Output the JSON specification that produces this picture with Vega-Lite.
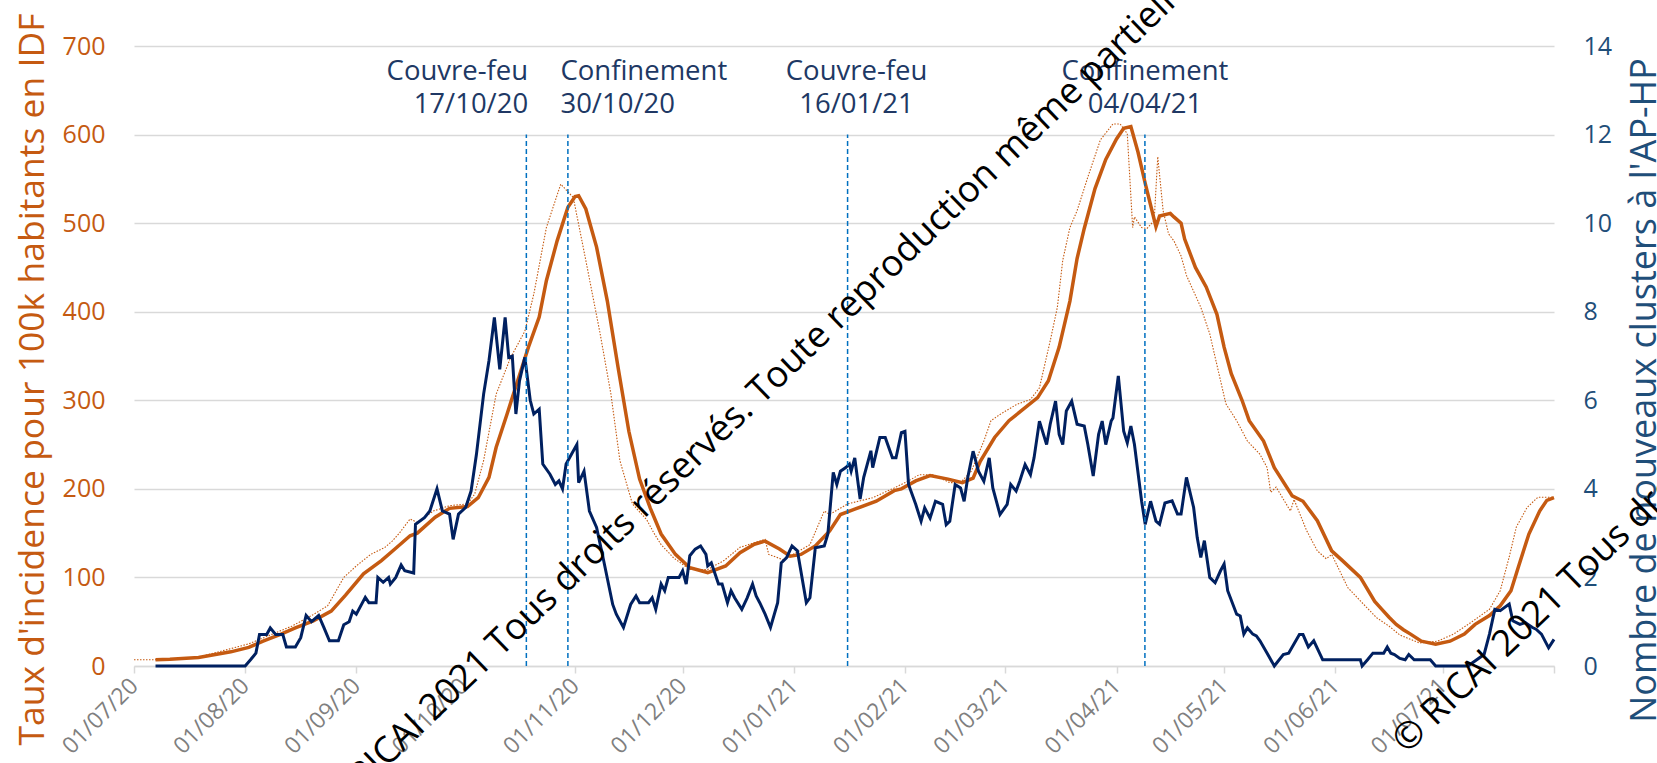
{
  "$schema": "https://vega.github.io/schema/vega-lite/v6.json",
  "width": 1420,
  "height": 620,
  "autosize": {"type": "none"},
  "padding": {"left": 134, "top": 46, "right": 103, "bottom": 97},
  "background": "white",
  "config": {"font": "Open Sans", "view": {"stroke": null}},
  "datasets": {
    "lisse": [
      {"d":"2020-07-07T00:00","v":7},{"d":"2020-07-11T00:00","v":7.5},{"d":"2020-07-19T00:00","v":9.5},{"d":"2020-07-28T00:00","v":16},
      {"d":"2020-08-02T00:00","v":21},{"d":"2020-08-06T00:00","v":28},{"d":"2020-08-11T00:00","v":36},{"d":"2020-08-15T00:00","v":43},
      {"d":"2020-08-20T00:00","v":51},{"d":"2020-08-25T00:00","v":62},{"d":"2020-08-29T00:00","v":80},{"d":"2020-09-03T00:00","v":104},
      {"d":"2020-09-08T00:00","v":119},{"d":"2020-09-12T00:00","v":133},{"d":"2020-09-16T00:00","v":147},{"d":"2020-09-18T00:00","v":150},
      {"d":"2020-09-23T00:00","v":168},{"d":"2020-09-27T00:00","v":178},{"d":"2020-10-02T00:00","v":180},{"d":"2020-10-05T00:00","v":190},
      {"d":"2020-10-08T00:00","v":213},{"d":"2020-10-10T00:00","v":247},{"d":"2020-10-13T00:00","v":284},{"d":"2020-10-16T00:00","v":322},
      {"d":"2020-10-19T00:00","v":360},{"d":"2020-10-22T00:00","v":394},{"d":"2020-10-24T00:00","v":435},{"d":"2020-10-27T00:00","v":480},
      {"d":"2020-10-30T00:00","v":518},{"d":"2020-11-01T00:00","v":530},{"d":"2020-11-02T00:00","v":531},{"d":"2020-11-04T00:00","v":516},
      {"d":"2020-11-07T00:00","v":473},{"d":"2020-11-10T00:00","v":412},{"d":"2020-11-13T00:00","v":337},{"d":"2020-11-16T00:00","v":265},
      {"d":"2020-11-19T00:00","v":211},{"d":"2020-11-22T00:00","v":178},{"d":"2020-11-25T00:00","v":149},{"d":"2020-11-29T00:00","v":126},
      {"d":"2020-12-03T00:00","v":111},{"d":"2020-12-08T00:00","v":105.5},{"d":"2020-12-13T00:00","v":113},{"d":"2020-12-17T00:00","v":128},
      {"d":"2020-12-21T00:00","v":137.5},{"d":"2020-12-24T00:00","v":141},{"d":"2020-12-28T00:00","v":132},{"d":"2020-12-31T00:00","v":124},
      {"d":"2021-01-03T00:00","v":126},{"d":"2021-01-07T00:00","v":135.6},{"d":"2021-01-11T00:00","v":152.5},{"d":"2021-01-14T00:00","v":171},
      {"d":"2021-01-18T00:00","v":177},{"d":"2021-01-24T00:00","v":186},{"d":"2021-01-29T00:00","v":198},{"d":"2021-01-31T00:00","v":200},
      {"d":"2021-02-04T00:00","v":209},{"d":"2021-02-08T00:00","v":215},{"d":"2021-02-13T00:00","v":211},{"d":"2021-02-17T00:00","v":207},
      {"d":"2021-02-20T00:00","v":212},{"d":"2021-02-22T00:00","v":231},{"d":"2021-02-26T00:00","v":258},{"d":"2021-03-02T00:00","v":277},
      {"d":"2021-03-06T00:00","v":290},{"d":"2021-03-10T00:00","v":303},{"d":"2021-03-13T00:00","v":322},{"d":"2021-03-16T00:00","v":360},
      {"d":"2021-03-19T00:00","v":412},{"d":"2021-03-21T00:00","v":460},{"d":"2021-03-23T00:00","v":494},{"d":"2021-03-26T00:00","v":539},
      {"d":"2021-03-29T00:00","v":572},{"d":"2021-04-01T00:00","v":595},{"d":"2021-04-03T00:00","v":607},{"d":"2021-04-05T00:00","v":609},
      {"d":"2021-04-07T00:00","v":580},{"d":"2021-04-09T00:00","v":545},{"d":"2021-04-12T00:00","v":496},{"d":"2021-04-13T00:00","v":508},
      {"d":"2021-04-16T00:00","v":511},{"d":"2021-04-17T00:00","v":507},{"d":"2021-04-19T00:00","v":500},{"d":"2021-04-20T00:00","v":482},
      {"d":"2021-04-23T00:00","v":450},{"d":"2021-04-26T00:00","v":428},{"d":"2021-04-29T00:00","v":397},{"d":"2021-05-01T00:00","v":360},
      {"d":"2021-05-03T00:00","v":330},{"d":"2021-05-06T00:00","v":300},{"d":"2021-05-08T00:00","v":277},{"d":"2021-05-12T00:00","v":254},
      {"d":"2021-05-15T00:00","v":224},{"d":"2021-05-20T00:00","v":192},{"d":"2021-05-23T00:00","v":186},{"d":"2021-05-27T00:00","v":164},
      {"d":"2021-05-31T00:00","v":130},{"d":"2021-06-03T00:00","v":119},{"d":"2021-06-08T00:00","v":100},{"d":"2021-06-12T00:00","v":73},
      {"d":"2021-06-14T00:00","v":64},{"d":"2021-06-16T00:00","v":55},{"d":"2021-06-18T00:00","v":47},{"d":"2021-06-20T00:00","v":41},
      {"d":"2021-06-22T00:00","v":36},{"d":"2021-06-25T00:00","v":28},{"d":"2021-06-29T00:00","v":24.5},{"d":"2021-07-03T00:00","v":28},
      {"d":"2021-07-07T00:00","v":36},{"d":"2021-07-10T00:00","v":47},{"d":"2021-07-14T00:00","v":57},{"d":"2021-07-17T00:00","v":68},
      {"d":"2021-07-20T00:00","v":85},{"d":"2021-07-22T00:00","v":111},{"d":"2021-07-25T00:00","v":149},{"d":"2021-07-28T00:00","v":175},
      {"d":"2021-07-30T00:00","v":187},{"d":"2021-08-01T00:00","v":190}
    ],
    "brut": [
      {"d":"2020-07-01T00:00","v":7},{"d":"2020-07-07T00:00","v":7},{"d":"2020-07-19T00:00","v":10},{"d":"2020-08-02T00:00","v":25},
      {"d":"2020-08-14T00:00","v":45},{"d":"2020-08-20T00:00","v":58},{"d":"2020-08-24T00:00","v":68},{"d":"2020-08-28T12:00","v":100},
      {"d":"2020-09-01T00:00","v":113},{"d":"2020-09-05T00:00","v":126},{"d":"2020-09-09T00:00","v":134},{"d":"2020-09-11T00:00","v":141},
      {"d":"2020-09-13T00:00","v":150},{"d":"2020-09-16T00:00","v":166},{"d":"2020-09-18T00:00","v":162},{"d":"2020-09-22T12:00","v":175},
      {"d":"2020-09-27T00:00","v":181},{"d":"2020-10-02T00:00","v":183},{"d":"2020-10-04T00:00","v":194},{"d":"2020-10-06T12:00","v":232},
      {"d":"2020-10-10T00:00","v":307},{"d":"2020-10-14T00:00","v":348},{"d":"2020-10-18T00:00","v":378},{"d":"2020-10-20T12:00","v":420},
      {"d":"2020-10-24T00:00","v":495},{"d":"2020-10-28T00:00","v":544},{"d":"2020-10-31T12:00","v":529},{"d":"2020-11-04T00:00","v":458},
      {"d":"2020-11-08T00:00","v":375},{"d":"2020-11-11T00:00","v":307},{"d":"2020-11-13T12:00","v":232},{"d":"2020-11-17T00:00","v":183},
      {"d":"2020-11-21T00:00","v":165},{"d":"2020-11-23T00:00","v":150},{"d":"2020-11-25T00:00","v":137},{"d":"2020-11-28T12:00","v":122},
      {"d":"2020-12-03T00:00","v":109},{"d":"2020-12-08T00:00","v":109},{"d":"2020-12-12T12:00","v":119},{"d":"2020-12-17T00:00","v":134},
      {"d":"2020-12-24T00:00","v":143},{"d":"2020-12-25T00:00","v":126},{"d":"2020-12-29T00:00","v":120},{"d":"2020-12-31T00:00","v":124},
      {"d":"2021-01-05T12:00","v":137},{"d":"2021-01-09T12:00","v":175},{"d":"2021-01-11T00:00","v":171},{"d":"2021-01-16T00:00","v":183},
      {"d":"2021-01-23T00:00","v":190},{"d":"2021-01-29T00:00","v":201},{"d":"2021-02-02T00:00","v":209},{"d":"2021-02-05T00:00","v":216},
      {"d":"2021-02-09T00:00","v":216},{"d":"2021-02-13T12:00","v":207},{"d":"2021-02-16T12:00","v":207},{"d":"2021-02-19T12:00","v":220},
      {"d":"2021-02-23T00:00","v":254},{"d":"2021-02-25T00:00","v":277},{"d":"2021-02-27T12:00","v":284},{"d":"2021-03-04T00:00","v":295},
      {"d":"2021-03-08T00:00","v":301},{"d":"2021-03-10T12:00","v":314},{"d":"2021-03-13T12:00","v":367},{"d":"2021-03-15T12:00","v":405},
      {"d":"2021-03-17T00:00","v":458},{"d":"2021-03-19T00:00","v":495},{"d":"2021-03-21T00:00","v":514},{"d":"2021-03-24T00:00","v":552},
      {"d":"2021-03-27T12:00","v":594},{"d":"2021-03-31T00:00","v":612},{"d":"2021-04-02T00:00","v":612},{"d":"2021-04-04T00:00","v":601},
      {"d":"2021-04-05T12:00","v":495},{"d":"2021-04-06T00:00","v":507},{"d":"2021-04-08T00:00","v":495},{"d":"2021-04-09T12:00","v":494},
      {"d":"2021-04-11T12:00","v":503},{"d":"2021-04-12T12:00","v":575},{"d":"2021-04-14T00:00","v":514},{"d":"2021-04-15T12:00","v":488},
      {"d":"2021-04-17T00:00","v":480},{"d":"2021-04-19T00:00","v":463},{"d":"2021-04-20T12:00","v":441},{"d":"2021-04-24T12:00","v":405},
      {"d":"2021-04-27T00:00","v":375},{"d":"2021-05-01T12:00","v":296},{"d":"2021-05-04T12:00","v":277},{"d":"2021-05-07T12:00","v":254},
      {"d":"2021-05-11T00:00","v":239},{"d":"2021-05-13T00:00","v":224},{"d":"2021-05-14T00:00","v":196},{"d":"2021-05-15T12:00","v":202},
      {"d":"2021-05-19T12:00","v":175},{"d":"2021-05-20T12:00","v":188},{"d":"2021-05-24T00:00","v":153},{"d":"2021-05-27T00:00","v":130},
      {"d":"2021-05-29T12:00","v":121},{"d":"2021-05-31T00:00","v":126},{"d":"2021-06-04T12:00","v":88.5},{"d":"2021-06-08T00:00","v":73.5},
      {"d":"2021-06-12T12:00","v":54.6},{"d":"2021-06-16T00:00","v":45},{"d":"2021-06-19T00:00","v":35},{"d":"2021-06-24T12:00","v":26},
      {"d":"2021-06-29T12:00","v":28},{"d":"2021-07-04T00:00","v":36},{"d":"2021-07-09T12:00","v":51},{"d":"2021-07-14T00:00","v":64},
      {"d":"2021-07-17T00:00","v":85},{"d":"2021-07-19T12:00","v":123},{"d":"2021-07-21T12:00","v":157},{"d":"2021-07-24T12:00","v":179},
      {"d":"2021-07-27T12:00","v":190.5},{"d":"2021-08-01T00:00","v":190.5}
    ],
    "clusters": [
      {"d":"2020-07-07T00:00","c":0},{"d":"2020-08-01T00:00","c":0},{"d":"2020-08-02T12:00","c":0.14},{"d":"2020-08-04T00:00","c":0.29},
      {"d":"2020-08-05T00:00","c":0.71},{"d":"2020-08-07T00:00","c":0.71},{"d":"2020-08-08T00:00","c":0.86},{"d":"2020-08-09T12:00","c":0.71},
      {"d":"2020-08-11T12:00","c":0.71},{"d":"2020-08-12T12:00","c":0.43},{"d":"2020-08-15T00:00","c":0.43},{"d":"2020-08-16T12:00","c":0.64},
      {"d":"2020-08-18T00:00","c":1.14},{"d":"2020-08-19T12:00","c":1.0},{"d":"2020-08-21T12:00","c":1.14},{"d":"2020-08-23T00:00","c":0.86},
      {"d":"2020-08-24T12:00","c":0.57},{"d":"2020-08-27T00:00","c":0.57},{"d":"2020-08-28T12:00","c":0.93},{"d":"2020-08-30T00:00","c":1.0},
      {"d":"2020-08-31T00:00","c":1.24},{"d":"2020-09-01T00:00","c":1.17},{"d":"2020-09-03T12:00","c":1.55},{"d":"2020-09-04T12:00","c":1.43},
      {"d":"2020-09-06T12:00","c":1.43},{"d":"2020-09-07T00:00","c":2.0},{"d":"2020-09-08T12:00","c":1.89},{"d":"2020-09-10T00:00","c":2.0},
      {"d":"2020-09-10T12:00","c":1.85},{"d":"2020-09-12T00:00","c":2.0},{"d":"2020-09-13T12:00","c":2.28},{"d":"2020-09-14T12:00","c":2.15},
      {"d":"2020-09-17T00:00","c":2.1},{"d":"2020-09-17T12:00","c":3.2},{"d":"2020-09-20T00:00","c":3.35},{"d":"2020-09-21T12:00","c":3.5},
      {"d":"2020-09-23T12:00","c":4.0},{"d":"2020-09-25T00:00","c":3.5},{"d":"2020-09-27T00:00","c":3.43},{"d":"2020-09-28T00:00","c":2.86},
      {"d":"2020-09-29T12:00","c":3.43},{"d":"2020-10-01T12:00","c":3.58},{"d":"2020-10-03T00:00","c":3.95},{"d":"2020-10-04T12:00","c":4.78},
      {"d":"2020-10-06T12:00","c":6.14},{"d":"2020-10-08T00:00","c":6.9},{"d":"2020-10-09T12:00","c":7.87},{"d":"2020-10-11T00:00","c":6.7},
      {"d":"2020-10-12T12:00","c":7.87},{"d":"2020-10-13T12:00","c":6.97},{"d":"2020-10-14T12:00","c":7.0},{"d":"2020-10-15T12:00","c":5.69},
      {"d":"2020-10-16T12:00","c":6.44},{"d":"2020-10-18T00:00","c":6.97},{"d":"2020-10-19T12:00","c":6.0},{"d":"2020-10-20T12:00","c":5.69},
      {"d":"2020-10-22T00:00","c":5.8},{"d":"2020-10-23T00:00","c":4.56},{"d":"2020-10-25T00:00","c":4.33},{"d":"2020-10-26T12:00","c":4.1},
      {"d":"2020-10-27T12:00","c":4.18},{"d":"2020-10-28T12:00","c":4.0},{"d":"2020-10-29T12:00","c":4.56},{"d":"2020-10-31T00:00","c":4.78},
      {"d":"2020-11-01T12:00","c":5.0},{"d":"2020-11-02T00:00","c":4.14},{"d":"2020-11-03T12:00","c":4.4},{"d":"2020-11-05T00:00","c":3.5},
      {"d":"2020-11-07T00:00","c":3.13},{"d":"2020-11-09T00:00","c":2.37},{"d":"2020-11-11T12:00","c":1.39},{"d":"2020-11-12T12:00","c":1.17},
      {"d":"2020-11-14T12:00","c":0.87},{"d":"2020-11-16T12:00","c":1.39},{"d":"2020-11-18T00:00","c":1.58},{"d":"2020-11-19T00:00","c":1.43},
      {"d":"2020-11-21T12:00","c":1.43},{"d":"2020-11-22T12:00","c":1.54},{"d":"2020-11-23T12:00","c":1.28},{"d":"2020-11-25T00:00","c":1.85},
      {"d":"2020-11-26T00:00","c":1.7},{"d":"2020-11-27T00:00","c":2.0},{"d":"2020-11-30T00:00","c":2.0},{"d":"2020-12-01T00:00","c":2.15},
      {"d":"2020-12-02T00:00","c":1.85},{"d":"2020-12-03T00:00","c":2.49},{"d":"2020-12-04T12:00","c":2.64},{"d":"2020-12-06T00:00","c":2.71},
      {"d":"2020-12-07T12:00","c":2.52},{"d":"2020-12-08T00:00","c":2.26},{"d":"2020-12-09T00:00","c":2.33},{"d":"2020-12-11T00:00","c":1.85},
      {"d":"2020-12-12T00:00","c":1.85},{"d":"2020-12-13T12:00","c":1.43},{"d":"2020-12-14T12:00","c":1.7},{"d":"2020-12-15T12:00","c":1.54},
      {"d":"2020-12-17T12:00","c":1.28},{"d":"2020-12-19T00:00","c":1.54},{"d":"2020-12-20T12:00","c":1.85},{"d":"2020-12-21T12:00","c":1.58},
      {"d":"2020-12-22T12:00","c":1.43},{"d":"2020-12-24T00:00","c":1.17},{"d":"2020-12-25T12:00","c":0.87},{"d":"2020-12-27T12:00","c":1.43},
      {"d":"2020-12-28T12:00","c":2.33},{"d":"2020-12-30T00:00","c":2.45},{"d":"2020-12-31T12:00","c":2.71},{"d":"2021-01-02T00:00","c":2.6},
      {"d":"2021-01-04T12:00","c":1.43},{"d":"2021-01-05T12:00","c":1.54},{"d":"2021-01-07T00:00","c":2.67},{"d":"2021-01-09T12:00","c":2.71},
      {"d":"2021-01-10T12:00","c":2.98},{"d":"2021-01-12T00:00","c":4.37},{"d":"2021-01-13T00:00","c":4.1},{"d":"2021-01-14T00:00","c":4.4},
      {"d":"2021-01-15T12:00","c":4.48},{"d":"2021-01-16T12:00","c":4.56},{"d":"2021-01-17T00:00","c":4.4},{"d":"2021-01-18T00:00","c":4.7},
      {"d":"2021-01-19T12:00","c":3.77},{"d":"2021-01-20T12:00","c":4.26},{"d":"2021-01-22T12:00","c":4.86},{"d":"2021-01-23T00:00","c":4.48},
      {"d":"2021-01-25T00:00","c":5.16},{"d":"2021-01-26T12:00","c":5.16},{"d":"2021-01-28T12:00","c":4.7},{"d":"2021-01-29T12:00","c":4.7},
      {"d":"2021-01-31T00:00","c":5.27},{"d":"2021-02-01T00:00","c":5.3},{"d":"2021-02-02T00:00","c":4.1},{"d":"2021-02-04T00:00","c":3.65},
      {"d":"2021-02-05T12:00","c":3.27},{"d":"2021-02-06T12:00","c":3.57},{"d":"2021-02-08T00:00","c":3.34},{"d":"2021-02-09T12:00","c":3.72},
      {"d":"2021-02-11T12:00","c":3.65},{"d":"2021-02-12T12:00","c":3.19},{"d":"2021-02-13T12:00","c":3.27},{"d":"2021-02-15T00:00","c":4.1},
      {"d":"2021-02-16T12:00","c":4.02},{"d":"2021-02-17T12:00","c":3.72},{"d":"2021-02-18T12:00","c":4.25},{"d":"2021-02-20T00:00","c":4.85},
      {"d":"2021-02-21T12:00","c":4.4},{"d":"2021-02-23T00:00","c":4.17},{"d":"2021-02-24T12:00","c":4.7},{"d":"2021-02-25T12:00","c":4.02},
      {"d":"2021-02-27T12:00","c":3.42},{"d":"2021-03-01T12:00","c":3.65},{"d":"2021-03-02T12:00","c":4.1},{"d":"2021-03-04T00:00","c":3.95},
      {"d":"2021-03-05T00:00","c":4.17},{"d":"2021-03-06T12:00","c":4.55},{"d":"2021-03-08T00:00","c":4.32},{"d":"2021-03-09T00:00","c":4.7},
      {"d":"2021-03-10T12:00","c":5.53},{"d":"2021-03-12T12:00","c":5.0},{"d":"2021-03-13T12:00","c":5.46},{"d":"2021-03-15T00:00","c":5.98},
      {"d":"2021-03-16T00:00","c":5.23},{"d":"2021-03-17T00:00","c":5.0},{"d":"2021-03-18T00:00","c":5.76},{"d":"2021-03-19T12:00","c":5.98},
      {"d":"2021-03-21T00:00","c":5.46},{"d":"2021-03-23T00:00","c":5.42},{"d":"2021-03-24T00:00","c":5.0},{"d":"2021-03-25T12:00","c":4.29},
      {"d":"2021-03-27T00:00","c":5.23},{"d":"2021-03-28T00:00","c":5.53},{"d":"2021-03-29T00:00","c":5.0},{"d":"2021-03-30T12:00","c":5.53},
      {"d":"2021-03-31T00:00","c":5.6},{"d":"2021-04-01T12:00","c":6.55},{"d":"2021-04-03T00:00","c":5.3},{"d":"2021-04-04T00:00","c":5.04},
      {"d":"2021-04-05T00:00","c":5.42},{"d":"2021-04-06T00:00","c":5.0},{"d":"2021-04-08T00:00","c":3.72},{"d":"2021-04-09T00:00","c":3.2},
      {"d":"2021-04-10T12:00","c":3.72},{"d":"2021-04-12T00:00","c":3.27},{"d":"2021-04-13T00:00","c":3.2},{"d":"2021-04-14T12:00","c":3.68},
      {"d":"2021-04-16T12:00","c":3.73},{"d":"2021-04-18T00:00","c":3.43},{"d":"2021-04-19T00:00","c":3.43},{"d":"2021-04-20T12:00","c":4.26},
      {"d":"2021-04-22T12:00","c":3.58},{"d":"2021-04-23T12:00","c":2.9},{"d":"2021-04-24T12:00","c":2.45},{"d":"2021-04-25T12:00","c":2.83},
      {"d":"2021-04-27T00:00","c":2.0},{"d":"2021-04-28T12:00","c":1.88},{"d":"2021-04-30T00:00","c":2.15},{"d":"2021-05-01T00:00","c":2.3},
      {"d":"2021-05-02T00:00","c":1.7},{"d":"2021-05-04T12:00","c":1.17},{"d":"2021-05-05T12:00","c":1.13},{"d":"2021-05-06T12:00","c":0.72},
      {"d":"2021-05-07T12:00","c":0.86},{"d":"2021-05-09T00:00","c":0.72},{"d":"2021-05-10T00:00","c":0.68},{"d":"2021-05-11T00:00","c":0.57},
      {"d":"2021-05-13T00:00","c":0.29},{"d":"2021-05-15T00:00","c":0},{"d":"2021-05-17T12:00","c":0.26},{"d":"2021-05-19T00:00","c":0.29},
      {"d":"2021-05-22T00:00","c":0.71},{"d":"2021-05-23T00:00","c":0.71},{"d":"2021-05-24T12:00","c":0.43},{"d":"2021-05-26T00:00","c":0.57},
      {"d":"2021-05-28T12:00","c":0.14},{"d":"2021-06-08T00:00","c":0.14},{"d":"2021-06-08T12:00","c":0},{"d":"2021-06-10T00:00","c":0.14},
      {"d":"2021-06-11T12:00","c":0.29},{"d":"2021-06-14T12:00","c":0.29},{"d":"2021-06-15T12:00","c":0.43},{"d":"2021-06-16T12:00","c":0.29},
      {"d":"2021-06-17T12:00","c":0.26},{"d":"2021-06-19T00:00","c":0.17},{"d":"2021-06-20T12:00","c":0.14},{"d":"2021-06-21T12:00","c":0.26},
      {"d":"2021-06-23T00:00","c":0.14},{"d":"2021-06-27T12:00","c":0.14},{"d":"2021-06-29T00:00","c":0},{"d":"2021-07-08T00:00","c":0},
      {"d":"2021-07-12T12:00","c":0.26},{"d":"2021-07-14T00:00","c":0.72},{"d":"2021-07-15T12:00","c":1.28},{"d":"2021-07-17T00:00","c":1.25},
      {"d":"2021-07-19T12:00","c":1.4},{"d":"2021-07-20T12:00","c":1.02},{"d":"2021-07-22T12:00","c":0.94},{"d":"2021-07-24T00:00","c":0.98},
      {"d":"2021-07-26T00:00","c":0.87},{"d":"2021-07-27T00:00","c":0.83},{"d":"2021-07-28T12:00","c":0.72},{"d":"2021-07-30T12:00","c":0.41},
      {"d":"2021-08-01T00:00","c":0.6}
    ],
    "events": [
      {"pos":"2020-10-18T10:00","lab":"2020-10-18T22:00","txt":"Couvre-feu\n17/10/20","g":"r"},
      {"pos":"2020-10-30T00:00","lab":"2020-10-27T22:00","txt":"Confinement\n30/10/20","g":"l"},
      {"pos":"2021-01-16T00:00","lab":"2021-01-18T12:00","txt":"Couvre-feu\n16/01/21","g":"c"},
      {"pos":"2021-04-08T22:00","lab":"2021-04-08T22:00","txt":"Confinement\n04/04/21","g":"c"}
    ],
    "wm": [
      {"d":"2020-08-25T20:00","v":-172,"t":"© RICAI 2021 Tous droits réservés. Toute reproduction même partielle interdite"},
      {"d":"2021-06-20T22:00","v":-100,"t":"© RICAI 2021 Tous droits réservés. Toute reproduction même partielle interdite"}
    ]
  },
  "layer": [
    {
      "encoding": {
        "x": {
          "field": "d", "type": "temporal",
          "scale": {"domain": [{"year":2020,"month":7,"date":1},{"year":2021,"month":8,"date":1}]},
          "axis": {
            "title": null,
            "values": [
              {"year":2020,"month":7,"date":1},{"year":2020,"month":8,"date":1},{"year":2020,"month":9,"date":1},
              {"year":2020,"month":10,"date":1},{"year":2020,"month":11,"date":1},{"year":2020,"month":12,"date":1},
              {"year":2021,"month":1,"date":1},{"year":2021,"month":2,"date":1},{"year":2021,"month":3,"date":1},
              {"year":2021,"month":4,"date":1},{"year":2021,"month":5,"date":1},{"year":2021,"month":6,"date":1},
              {"year":2021,"month":7,"date":1},{"year":2021,"month":8,"date":1}
            ],
            "format": "%d/%m/%y",
            "labelExpr": "datum.value >= datetime(2021,7,1) ? '' : datum.label",
            "labelAngle": -45, "labelAlign": "right", "labelBaseline": "middle",
            "labelFontSize": 23, "labelColor": "#7F7F7F", "labelPadding": 9,
            "labelFlush": false, "labelOverlap": false, "labelBound": false,
            "tickColor": "#D9D9D9", "tickSize": 7, "tickWidth": 1.5, "ticks": true,
            "domain": true, "domainColor": "#D9D9D9", "domainWidth": 1.5, "grid": false
          }
        },
        "y": {
          "field": "v", "type": "quantitative",
          "scale": {"domain": [0, 700], "nice": false},
          "axis": {
            "orient": "left", "values": [0,100,200,300,400,500,600,700],
            "grid": true, "gridColor": "#D9D9D9", "gridWidth": 1.5,
            "domain": false, "ticks": false,
            "labelColor": "#C55A11", "labelFontSize": 25, "labelPadding": 29,
            "title": "Taux d'incidence pour 100k habitants en IDF",
            "titleColor": "#C55A11", "titleFontSize": 35.5, "titleFontWeight": "normal",
            "titleAlign": "center", "titlePadding": 12, "titleY": 333
          }
        }
      },
      "layer": [
        {"data": {"name": "brut"}, "mark": {"type": "line", "color": "#C55A11", "strokeWidth": 1.1, "strokeDash": [1.5, 1.5]}},
        {"data": {"name": "lisse"}, "mark": {"type": "line", "color": "#C55A11", "strokeWidth": 3.5}}
      ]
    },
    {
      "data": {"name": "clusters"},
      "mark": {"type": "line", "color": "#002060", "strokeWidth": 3},
      "encoding": {
        "x": {"field": "d", "type": "temporal", "axis": {"title": null}},
        "y": {
          "field": "c", "type": "quantitative",
          "scale": {"domain": [0, 14], "nice": false},
          "axis": {
            "orient": "right", "values": [0,2,4,6,8,10,12,14],
            "grid": false, "domain": false, "ticks": false,
            "labelColor": "#1F4E79", "labelFontSize": 25, "labelPadding": 29,
            "title": "Nombre de nouveaux clusters à l'AP-HP",
            "titleColor": "#1F4E79", "titleFontSize": 36, "titleFontWeight": "normal",
            "titleAngle": -90, "titleAlign": "center", "titleBaseline": "top", "titlePadding": 16, "titleY": 344
          }
        }
      }
    },
    {
      "layer": [
        {
          "data": {"name": "events"},
          "mark": {"type": "rule", "color": "#0070C0", "strokeWidth": 1.5, "strokeDash": [5, 3]},
          "encoding": {
            "x": {"field": "pos", "type": "temporal", "axis": {"title": null}},
            "y": {"datum": 0, "type": "quantitative", "scale": {"domain": [0, 700], "nice": false}, "axis": null},
            "y2": {"datum": 600}
          }
        },
        {
          "data": {"name": "events"},
          "transform": [{"filter": "datum.g == 'r'"}],
          "mark": {"type": "text", "align": "right", "baseline": "alphabetic", "fontSize": 27.5, "lineHeight": 33, "lineBreak": "\n", "color": "#203864"},
          "encoding": {
            "x": {"field": "lab", "type": "temporal", "axis": {"title": null}},
            "y": {"datum": 662, "type": "quantitative", "scale": {"domain": [0, 700], "nice": false}, "axis": null},
            "text": {"field": "txt"}
          }
        },
        {
          "data": {"name": "events"},
          "transform": [{"filter": "datum.g == 'l'"}],
          "mark": {"type": "text", "align": "left", "baseline": "alphabetic", "fontSize": 27.5, "lineHeight": 33, "lineBreak": "\n", "color": "#203864"},
          "encoding": {
            "x": {"field": "lab", "type": "temporal", "axis": {"title": null}},
            "y": {"datum": 662, "type": "quantitative", "scale": {"domain": [0, 700], "nice": false}, "axis": null},
            "text": {"field": "txt"}
          }
        },
        {
          "data": {"name": "events"},
          "transform": [{"filter": "datum.g == 'c'"}],
          "mark": {"type": "text", "align": "center", "baseline": "alphabetic", "fontSize": 27.5, "lineHeight": 33, "lineBreak": "\n", "color": "#203864"},
          "encoding": {
            "x": {"field": "lab", "type": "temporal", "axis": {"title": null}},
            "y": {"datum": 662, "type": "quantitative", "scale": {"domain": [0, 700], "nice": false}, "axis": null},
            "text": {"field": "txt"}
          }
        },
        {
          "data": {"name": "wm"},
          "mark": {"type": "text", "align": "left", "baseline": "alphabetic", "angle": -44, "fontSize": 36.5, "color": "#000000"},
          "encoding": {
            "x": {"field": "d", "type": "temporal", "axis": {"title": null}},
            "y": {"field": "v", "type": "quantitative", "scale": {"domain": [0, 700], "nice": false}, "axis": null},
            "text": {"field": "t"}
          }
        }
      ]
    }
  ],
  "resolve": {"scale": {"y": "independent"}}
}
